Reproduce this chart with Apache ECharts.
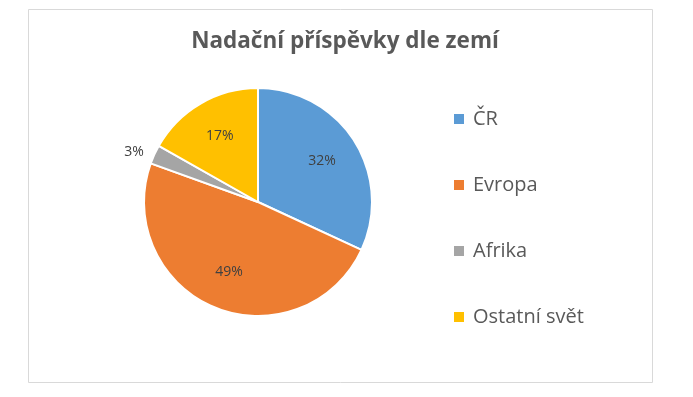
<!DOCTYPE html>
<html>
<head>
<meta charset="utf-8">
<script src="https://cdn.jsdelivr.net/npm/echarts@6/dist/echarts.min.js"></script>
<style>
html,body{margin:0;padding:0;background:#fff;}
#chart{width:693px;height:397px;}
</style>
</head>
<body>
<div id="chart"></div>
<script>
const categories = ['ČR', 'Evropa', 'Afrika', 'Ostatní svět'];
const values = [31.9, 48.6, 2.7, 16.8];
const colors = ['#5B9BD5', '#ED7D31', '#A5A5A5', '#FFC000'];
const titleText = 'Nadační příspěvky dle zemí';

const FONT = '"Open Sans", "Noto Sans", sans-serif';
const R = 114;
const CENTER = [258, 202];

const mainData = categories.map((n, i) => {
  const d = { name: n, value: values[i], itemStyle: { color: colors[i] } };
  if (n === 'Afrika') {
    d.label = {
      show: true, position: 'outside', color: '#404040', fontSize: 14, fontFamily: FONT,
      formatter: p => Math.round(p.percent) + '%'
    };
    d.labelLine = { show: false, length: 6, length2: 0 };
  }
  return d;
});
const labelData = categories.map((n, i) => ({
  name: n, value: values[i],
  label: { show: n !== 'Afrika' }
}));

const chart = echarts.init(document.getElementById('chart'), null, { renderer: 'canvas' });
chart.setOption({
  animation: false,
  backgroundColor: '#ffffff',
  title: {
    text: titleText,
    left: 340,
    textAlign: 'center',
    top: 25,
    textStyle: { fontFamily: FONT, fontSize: 22.5, fontWeight: 'bold', color: '#595959' }
  },
  legend: {
    orient: 'vertical',
    left: 447,
    top: 104,
    icon: 'rect',
    itemWidth: 12,
    itemHeight: 12,
    itemGap: 46,
    data: categories,
    selectedMode: false,
    textStyle: { fontFamily: FONT, fontSize: 20, color: '#595959', lineHeight: 20, padding: [0, 0, 0, 3] }
  },
  graphic: [{
    type: 'rect', silent: true, z: -10,
    shape: { x: 28.5, y: 9.5, width: 624, height: 373 },
    style: { fill: 'none', stroke: '#d9d9d9', lineWidth: 1 }
  }],
  series: [
    {
      type: 'pie',
      center: CENTER,
      radius: [0, R],
      startAngle: 90,
      clockwise: true,
      silent: true,
      avoidLabelOverlap: false,
      itemStyle: { borderColor: '#ffffff', borderWidth: 2 },
      label: { show: false },
      labelLine: { show: false },
      emphasis: { disabled: true },
      data: mainData
    },
    {
      type: 'pie',
      center: CENTER,
      radius: [0, R * 1.28],
      startAngle: 90,
      clockwise: true,
      silent: true,
      avoidLabelOverlap: false,
      legendHoverLink: false,
      itemStyle: { color: 'rgba(0,0,0,0)', borderWidth: 0 },
      label: {
        position: 'inside', color: '#404040', fontSize: 14, fontFamily: FONT,
        formatter: p => Math.round(p.percent) + '%'
      },
      labelLine: { show: false },
      emphasis: { disabled: true },
      data: labelData
    }
  ]
});
</script>
</body>
</html>
